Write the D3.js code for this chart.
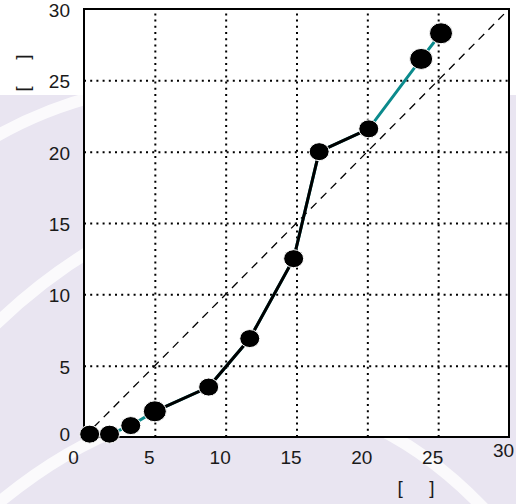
<!DOCTYPE html>
<html><head><meta charset="utf-8">
<script src="https://cdn.jsdelivr.net/npm/d3@7"></script>
<style>
html,body{margin:0;padding:0;background:#e9e5f1;}
svg{display:block;font-family:"Liberation Sans",Arial,Helvetica,sans-serif;}
</style>
</head><body><svg id="chart" width="516" height="504"></svg>
<script>
// ---- data ----
const xValues = [0.4, 1.8, 3.3, 5.0, 8.8, 11.7, 14.8, 16.6, 20.1, 23.8, 25.2];
const yValues = [0.2, 0.2, 0.8, 1.8, 3.5, 6.9, 12.5, 20.0, 21.6, 26.5, 28.3];
const xTicks = [0, 5, 10, 15, 20, 25, 30];
const yTicks = [0, 5, 10, 15, 20, 25, 30];
const referenceLine = [0, 30];   // y = x diagonal from 0 to 30
const xAxisTitle = "[\u00a0\u00a0\u00a0\u00a0\u00a0]";
const yAxisTitle = "[\u00a0\u00a0\u00a0\u00a0\u00a0]";

// ---- layout / style ----
const W = 516, H = 504;
const plot = {left: 84, right: 509, top: 9, bottom: 437};
const teal = "#0b8a8c";
const textColor = "#1a1a1a";
const fontSize = 19;
const blackRange = [3, 8];          // indices drawn with the black line
const bigMarkers = new Set([3, 9, 10]);

const svg = d3.select("#chart");
const points = xValues.map((x, i) => ({x, y: yValues[i], i}));

const x = d3.scaleLinear().domain([0, 30]).range([plot.left, plot.right]);
const y = d3.scaleLinear().domain([0, 30]).range([plot.bottom, plot.top]);

// background decoration
const bg = svg.append("g");
bg.append("rect").attr("width", W).attr("height", H).attr("fill", "#e9e5f1");
bg.append("rect").attr("width", W).attr("height", 95).attr("fill", "#ffffff");
const arcs = [
  "M-10,140 Q40,110 100,95",
  "M-10,330 Q40,280 100,245",
  "M-10,510 Q60,450 130,425",
  "M360,420 Q430,450 490,515"
];
bg.selectAll("path.arc").data(arcs).join("path")
  .attr("d", d => d).attr("fill", "none")
  .attr("stroke", "#ffffff").attr("stroke-width", 12).attr("stroke-opacity", 0.8);

// plot area
svg.append("rect")
  .attr("x", plot.left).attr("y", plot.top)
  .attr("width", plot.right - plot.left).attr("height", plot.bottom - plot.top)
  .attr("fill", "#ffffff");

// grid
const gridX = svg.append("g")
  .attr("transform", `translate(0,${plot.bottom})`)
  .call(d3.axisBottom(x).tickValues(xTicks.filter(t => t > 0 && t < 30))
    .tickSize(-(plot.bottom - plot.top)).tickFormat(""));
const gridY = svg.append("g")
  .attr("transform", `translate(${plot.left},0)`)
  .call(d3.axisLeft(y).tickValues(yTicks.filter(t => t > 0 && t < 30))
    .tickSize(-(plot.right - plot.left)).tickFormat(""));
[gridX, gridY].forEach(g => {
  g.select(".domain").remove();
  g.selectAll("line").attr("stroke", "#000").attr("stroke-width", 2)
    .attr("stroke-dasharray", "2,4.2");
});

// diagonal reference line
svg.append("line")
  .attr("x1", x(referenceLine[0])).attr("y1", y(referenceLine[0]))
  .attr("x2", x(referenceLine[1])).attr("y2", y(referenceLine[1]))
  .attr("stroke", "#000").attr("stroke-width", 1.3).attr("stroke-dasharray", "8,6");

// frame
svg.append("rect")
  .attr("x", plot.left).attr("y", plot.top)
  .attr("width", plot.right - plot.left).attr("height", plot.bottom - plot.top)
  .attr("fill", "none").attr("stroke", "#000").attr("stroke-width", 2);

// tick labels via axes
const xAxis = svg.append("g")
  .attr("transform", `translate(0,${plot.bottom})`)
  .call(d3.axisBottom(x).tickValues(xTicks).tickSize(0).tickPadding(14));
xAxis.select(".domain").remove();
xAxis.selectAll("text").attr("font-size", fontSize).attr("fill", textColor)
  .attr("font-family", "Liberation Sans, Arial, sans-serif")
  .attr("dx", d => d === 0 ? -11 : -6)
  .attr("dy", d => d === 30 ? "0.3em" : "0.71em");

const yAxis = svg.append("g")
  .attr("transform", `translate(${plot.left},0)`)
  .call(d3.axisLeft(y).tickValues(yTicks).tickSize(0).tickPadding(14));
yAxis.select(".domain").remove();
yAxis.selectAll("text").attr("font-size", fontSize).attr("fill", textColor)
  .attr("font-family", "Liberation Sans, Arial, sans-serif")
  .attr("dy", d => d === 0 ? "0.2em" : "0.4em");

// axis titles
svg.append("text")
  .attr("x", 416).attr("y", 494)
  .attr("text-anchor", "middle").attr("font-size", fontSize).attr("fill", textColor)
  .text(xAxisTitle);
svg.append("text")
  .attr("transform", "translate(22,73) rotate(-90)")
  .attr("text-anchor", "middle").attr("dy", "0.35em")
  .attr("font-size", fontSize).attr("fill", textColor)
  .text(yAxisTitle);

// lines
const line = d3.line().x(d => x(d.x)).y(d => y(d.y));
svg.append("path").datum(points)
  .attr("d", line).attr("fill", "none")
  .attr("stroke", teal).attr("stroke-width", 3);
svg.append("path").datum(points.slice(blackRange[0], blackRange[1] + 1))
  .attr("d", line).attr("fill", "none")
  .attr("stroke", "#000").attr("stroke-width", 3);

// markers
svg.selectAll("ellipse.pt").data(points).join("ellipse")
  .attr("class", "pt")
  .attr("cx", d => x(d.x)).attr("cy", d => y(d.y))
  .attr("rx", d => bigMarkers.has(d.i) ? 11.5 : 10)
  .attr("ry", d => bigMarkers.has(d.i) ? 10.5 : 9)
  .attr("fill", "#000").attr("stroke", "#fff").attr("stroke-width", 1);
</script>
</body></html>
